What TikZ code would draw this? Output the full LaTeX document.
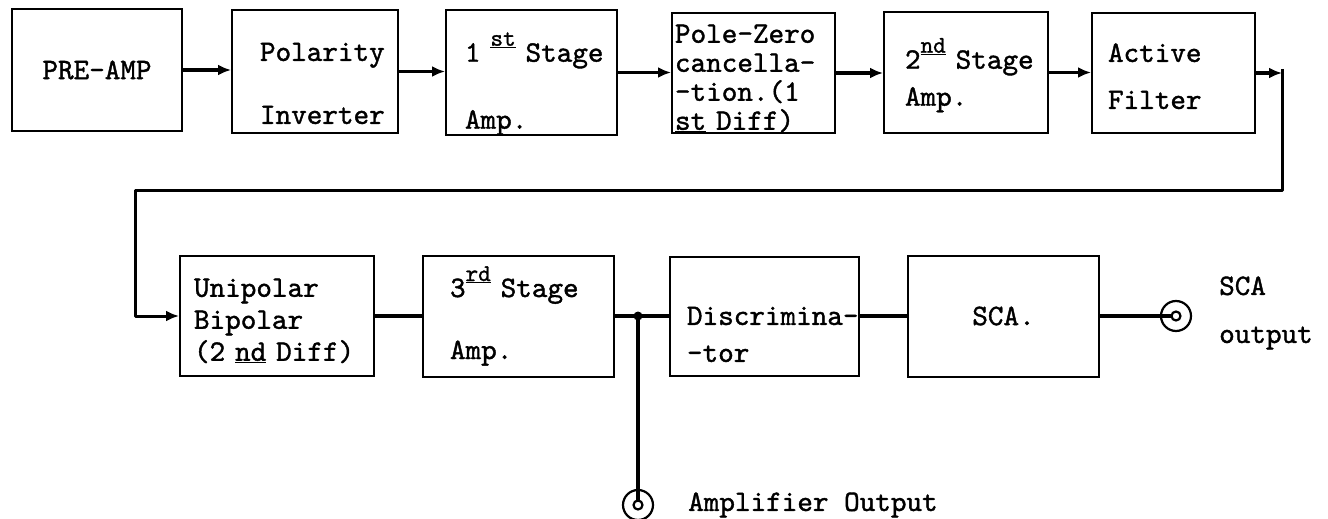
\documentclass[tikz,border=0pt]{standalone}
\usepackage{fontspec}
\setmonofont{lmmono10-regular.otf}[FakeBold=1.3]
\usetikzlibrary{arrows.meta,positioning,calc}
\newcommand{\supord}[1]{\raisebox{16pt}{\fontsize{24}{24}\selectfont\underline{#1}}}
\newcommand{\toppad}[1]{\rule{0pt}{#1}}
\hyphenpenalty=10000
\exhyphenpenalty=10000

\begin{document}
\begin{tikzpicture}[x=1pt,y=-1pt,
    every node/.style={font=\ttfamily\fontsize{29.7}{29}\selectfont},
    block/.style={draw,line width=2pt,align=left,inner xsep=0pt,inner ysep=0pt},
    flow/.style={line width=3.5pt,-{Latex[length=13pt,width=11pt]}},
    wire/.style={line width=4.5pt},
    jack/.style={circle,draw,line width=2.2pt,minimum size=30pt,inner sep=0pt,
      path picture={\draw[line width=2.2pt] (path picture bounding box.center) circle (4.5pt);}},
    dot/.style={circle,fill,inner sep=0pt,minimum size=9pt}]
    \useasboundingbox (0,0) rectangle (1328,519);

    % first row
    \node[block,minimum width=170pt,minimum height=121pt,align=center] (pre) at (97,70) {PRE-AMP};
    \node[block,minimum width=166pt,minimum height=123pt,text width=110pt] (pol) at (315,71.5) {\toppad{42pt}Polarity\\[34pt]Inverter};
    \node[block,minimum width=171pt,minimum height=121pt,text width=133pt] (stA) at (531.5,72.5) {\toppad{52pt}1~\supord{st}~Stage\\[38pt]Amp.};
    \node[block,minimum width=163pt,minimum height=120pt,text width=157pt] (pz) at (753.5,73) {\toppad{29pt}Pole-Zero\\cancella-\\-tion.(1\\\underline{st}~Diff)};
    \node[block,minimum width=164pt,minimum height=121pt,text width=122pt] (stB) at (966,72.5) {\toppad{36pt}2\supord{nd}~Stage\\[8pt]Amp.};
    \node[block,minimum width=163pt,minimum height=120pt,text width=131pt] (af) at (1173.5,73) {\toppad{25pt}Active\\[18pt]Filter};

    \draw[flow] (pre.east) -- (pre.east -| pol.west);
    \draw[flow] (pol.east) -- (pol.east -| stA.west);
    \draw[flow] (stA.east) -- (stA.east -| pz.west);
    \draw[flow] (pz.east) -- (pz.east -| stB.west);
    \draw[flow] (stB.east) -- (stB.east -| af.west);

    % return path to second row
    \coordinate (turnR) at (1282,190);
    \coordinate (turnL) at (135,190);
    \draw[flow] (af.east) -- (af.east -| turnR);

    % second row
    \node[block,minimum width=194pt,minimum height=120pt,text width=166pt] (uni) at (277,316) {\toppad{28pt}Unipolar\\[3pt]Bipolar\\[3pt](2~\underline{nd}~Diff)};
    \node[block,minimum width=191pt,minimum height=121pt,text width=137pt] (stC) at (518.5,316) {3\supord{rd}~Stage\\[33pt]Amp.};
    \node[block,minimum width=189pt,minimum height=119pt,text width=155pt] (disc) at (764.5,316) {\toppad{55pt}Discrimina-\\[8pt]-tor};
    \node[block,minimum width=191pt,minimum height=121pt,align=center] (sca) at (1003.5,316) {SCA.};
    \node[dot] (jct) at (638,316) {};
    \node[jack] (scajack) at (1176,316) {};
    \node[jack] (ampjack) at (638,505) {};
    \node[anchor=west,inner sep=0pt,align=left] (scalbl) at (1219,313) {SCA\\[19pt]output};
    \node[anchor=west,inner sep=0pt] (amplbl) at (688,505) {Amplifier Output};

    \draw[line width=3pt,line join=round,-{Latex[length=13pt,width=11pt]}]
      ([yshift=4pt]af.east -| turnR) -- (turnR) -- (turnL) -- (turnL |- uni.west) -- (uni.west);

    \draw[wire] (uni.east) -- (uni.east -| stC.west);
    \draw[wire] (stC.east) -- (stC.east -| disc.west);
    \draw[wire] (disc.east) -- (disc.east -| sca.west);
    \draw[wire,shorten >=4.5pt] (sca.east) -- (scajack.center);
    \draw[wire,shorten >=4.5pt] (jct.center) -- (ampjack.center);
  \end{tikzpicture}
\end{document}
